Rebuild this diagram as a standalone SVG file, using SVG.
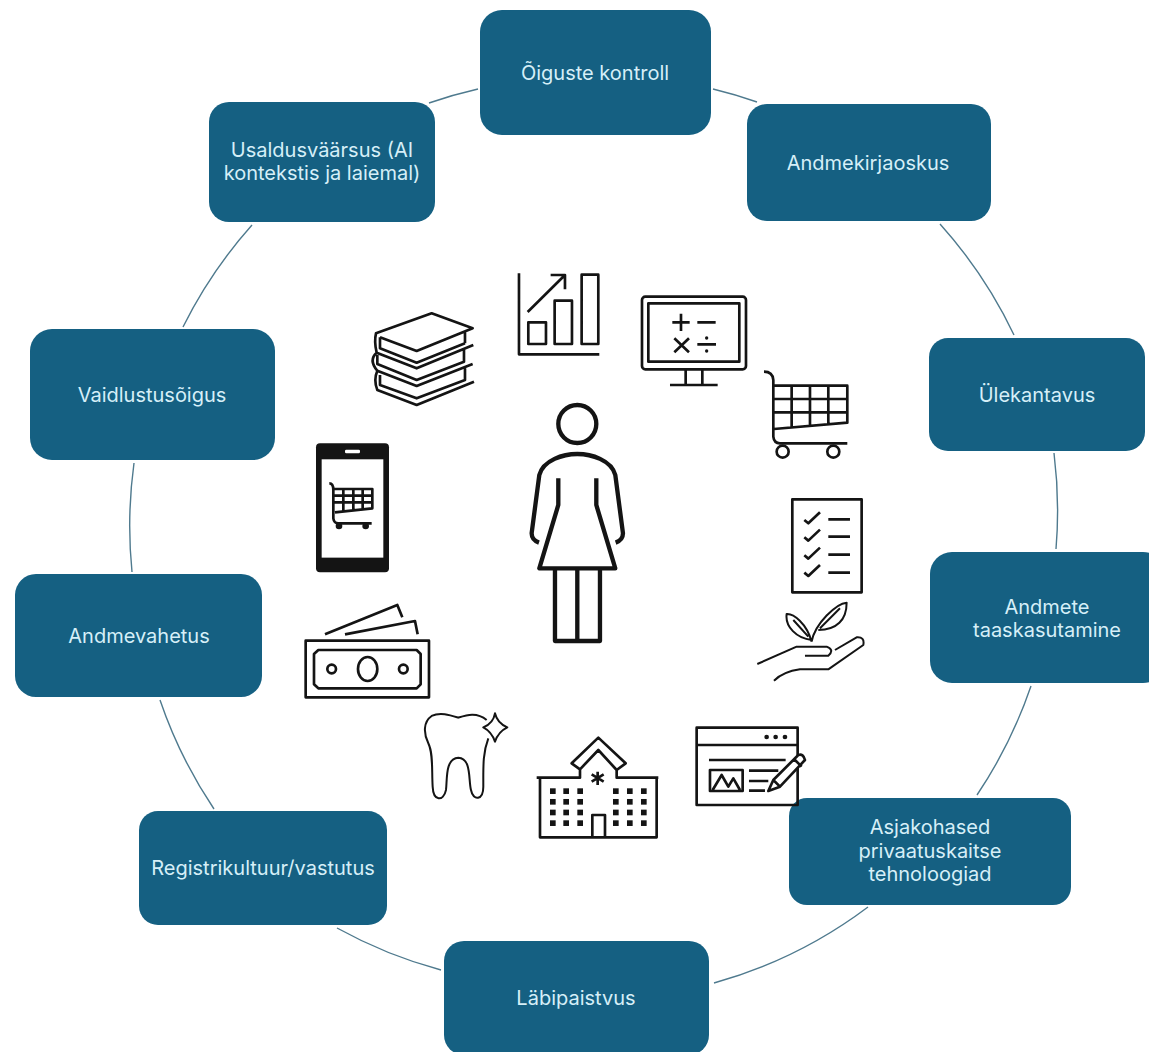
<svg xmlns="http://www.w3.org/2000/svg" width="1149" height="1052" viewBox="0 0 1149 1052">
<style>
.n{fill:#156082}
.t{font-family:"Inter","Liberation Sans",sans-serif;font-size:20px;fill:#d6eff8;text-anchor:middle}
.a{fill:none;stroke:#4f7a8e;stroke-width:1.4}
.i{fill:none;stroke:#141414;stroke-width:8;stroke-linejoin:round}
.s{stroke-width:6}
.w{fill:#141414;stroke:none}
</style>
<rect width="1149" height="1052" fill="#fff"/>
<g id="connectors">
<path class="a" d="M713 89A463 463 0 0 1 757 102"/>
<path class="a" d="M940 224A463 463 0 0 1 1014 335"/>
<path class="a" d="M1054 453A463 463 0 0 1 1056 549"/>
<path class="a" d="M1031 686A463 463 0 0 1 977 795"/>
<path class="a" d="M868 907A463 463 0 0 1 714 983"/>
<path class="a" d="M441 970A463 463 0 0 1 337 928"/>
<path class="a" d="M214 809A463 463 0 0 1 160 700"/>
<path class="a" d="M132 572A463 463 0 0 1 134 463"/>
<path class="a" d="M183 327A463 463 0 0 1 252 225"/>
<path class="a" d="M429 103A463 463 0 0 1 478 89"/>
</g>
<g id="n1"><rect class="n" x="480" y="10" width="231" height="125" rx="22"/><text class="t" x="595" y="80">Õiguste kontroll</text></g>
<g id="n2"><rect class="n" x="747" y="104" width="244" height="117" rx="20"/><text class="t" x="868" y="170">Andmekirjaoskus</text></g>
<g id="n3"><rect class="n" x="929" y="338" width="216" height="113" rx="19"/><text class="t" x="1037" y="402">Ülekantavus</text></g>
<g id="n4"><rect class="n" x="930" y="552" width="235" height="131" rx="22"/><text class="t" x="1047" y="614">Andmete</text><text class="t" x="1047" y="637">taaskasutamine</text></g>
<g id="n5"><rect class="n" x="789" y="798" width="282" height="107" rx="18"/><text class="t" x="930" y="834">Asjakohased</text><text class="t" x="930" y="858">privaatuskaitse</text><text class="t" x="930" y="881">tehnoloogiad</text></g>
<g id="n6"><rect class="n" x="444" y="941" width="265" height="114" rx="20"/><text class="t" x="576" y="1005">Läbipaistvus</text></g>
<g id="n7"><rect class="n" x="139" y="811" width="248" height="114" rx="19"/><text class="t" x="263" y="875">Registrikultuur/vastutus</text></g>
<g id="n8"><rect class="n" x="15" y="574" width="247" height="123" rx="21"/><text class="t" x="139" y="643">Andmevahetus</text></g>
<g id="n9"><rect class="n" x="30" y="329" width="245" height="131" rx="22"/><text class="t" x="152" y="402">Vaidlustusõigus</text></g>
<g id="n10"><rect class="n" x="209" y="102" width="226" height="120" rx="20"/><text class="t" x="322" y="157">Usaldusväärsus (AI</text><text class="t" x="322" y="180">kontekstis ja laiemal)</text></g>

<g id="icons-a" transform="translate(300 260) scale(.3333)">
<g id="chart" class="i"><path d="M657 40V283H898M685 187h53v65h-53zM764 122h52v130h-52zM845 44h50v208h-50zM683 156L795 45M752 45h43v43"/></g>
<g id="books" class="i"><path d="M240 232L350 273L518 205L395 160L228 220Q222 245 230 278Q205 300 232 332Q220 360 232 390L350 435L522 365M240 232V265L350 308L495 250M495 215V250M230 278L350 325L520 255M232 285V312L350 360L492 305V268M232 332L350 378L518 312M240 345V375L350 415L495 360V325"/></g>
<g id="phone"><rect x="48" y="550" width="219" height="387" rx="12" fill="#141414"/><rect x="65" y="598" width="185" height="295" fill="#fff"/><rect x="135" y="569" width="45" height="11" rx="4" fill="#fff"/>
<path class="i" d="M88 670Q100 670 100 690V775Q102 790 115 790H215M103 687H217V745L105 757M103 707H217M103 727H217M130 687V752M160 687V750M188 687V747"/><circle class="w" cx="117" cy="798" r="10"/><circle class="w" cx="197" cy="798" r="10"/></g>
<g id="person" class="i" style="stroke-width:13"><circle cx="832" cy="492" r="57"/><path d="M717 848Q695 840 695 820L718 645C730 600 790 582 832 582C874 582 934 600 946 645L969 820Q969 840 947 848M775 655V735L718 925H946L889 735V655M765 925V1143H900V925M832 925V1143"/></g>
</g>

<g id="icons-b" transform="translate(620 280) scale(.3333)">
<g id="monitor" class="i"><rect x="66" y="50" width="312" height="218" rx="10"/><rect x="85" y="70" width="273" height="175"/><path d="M197 268V315M247 268V315M150 315H293M157 127H209M183 101V153M232 127H287M163 175L207 217M207 175L163 217M232 193H288"/><circle class="w" cx="260" cy="174" r="5"/><circle class="w" cx="260" cy="213" r="5"/></g>
<g id="cart" class="i"><path d="M432 275Q458 275 460 300V470Q462 490 480 490H682M460 317H682V428L462 447M460 357H682M460 397H682M515 317V442M570 317V437M625 317V432"/><circle cx="488" cy="515" r="18"/><circle cx="640" cy="515" r="18"/></g>
<g id="checklist" class="i"><rect x="517" y="658" width="208" height="279"/><path d="M553 720L565 730L600 697M553 772L565 782L600 749M553 826L565 836L600 803M553 878L565 888L600 855M625 718H690M625 770H690M625 824H690M625 878H690"/></g>
</g>

<g id="icons-c" transform="translate(290 590) scale(.3333)">
<g id="money" class="i"><rect x="47" y="152" width="370" height="170"/><path d="M85 180H380L392 192V283L380 295H85L72 283V192Z"/><ellipse cx="233" cy="237" rx="29" ry="36"/><circle cx="125" cy="237" r="13"/><circle cx="340" cy="237" r="13"/><path d="M105 133L322 45L337 82M165 133L375 93L383 133"/></g>
<g id="tooth" class="i s"><path d="M590 390C560 365 530 375 505 383C480 375 450 365 425 378C400 395 400 430 415 460C430 490 425 540 428 590C430 635 460 635 468 600C472 570 465 505 505 503C545 505 535 570 543 600C550 635 580 630 580 590C580 530 578 490 595 445M615 370Q622 400 652 412Q625 425 615 455Q605 425 580 412Q610 400 615 370Z"/></g>
</g>

<g id="icons-d" transform="translate(520 590) scale(.3333)">
<g id="plant" class="i s"><path d="M875 155C860 100 820 70 800 72C795 110 830 145 875 150M875 155C885 100 950 40 980 38C980 90 950 120 895 120M820 90L865 140M960 55L900 115M712 222L830 170H920Q945 180 925 197H855M945 180L1010 142Q1035 140 1030 165L925 238H840Q790 245 762 272"/></g>
<g id="hospital" class="i"><path d="M50 563H180V538L155 520L235 443L317 520L290 540V563H415M60 563V742H410V563M180 538L235 480L290 540M217 742V675H255V742M233 545V585M215 553L251 575M251 553L215 575"/>
<g class="w"><rect x="90" y="595" width="17" height="17"/><rect x="130" y="595" width="17" height="17"/><rect x="172" y="595" width="17" height="17"/><rect x="279" y="595" width="17" height="17"/><rect x="321" y="595" width="17" height="17"/><rect x="363" y="595" width="17" height="17"/>
<rect x="90" y="627" width="17" height="17"/><rect x="130" y="627" width="17" height="17"/><rect x="172" y="627" width="17" height="17"/><rect x="279" y="627" width="17" height="17"/><rect x="321" y="627" width="17" height="17"/><rect x="363" y="627" width="17" height="17"/>
<rect x="90" y="659" width="17" height="17"/><rect x="130" y="659" width="17" height="17"/><rect x="172" y="659" width="17" height="17"/><rect x="279" y="659" width="17" height="17"/><rect x="321" y="659" width="17" height="17"/><rect x="363" y="659" width="17" height="17"/>
<rect x="90" y="691" width="17" height="17"/><rect x="130" y="691" width="17" height="17"/><rect x="172" y="691" width="17" height="17"/><rect x="279" y="691" width="17" height="17"/><rect x="321" y="691" width="17" height="17"/><rect x="363" y="691" width="17" height="17"/></g></g>
<g id="web" class="i"><rect x="530" y="413" width="303" height="232"/><path d="M530 465H833M567 510H797M570 540H668V603H570ZM578 600L605 555L625 590L640 565L660 600M687 542H775M687 573H745M687 602H735"/><circle class="w" cx="740" cy="441" r="7"/><circle class="w" cx="767" cy="441" r="7"/><circle class="w" cx="795" cy="441" r="7"/><path fill="#fff" d="M745 603L760 570L835 495Q850 490 855 510L780 590ZM822 507L845 530M760 570L780 590"/></g>
</g>
</svg>
